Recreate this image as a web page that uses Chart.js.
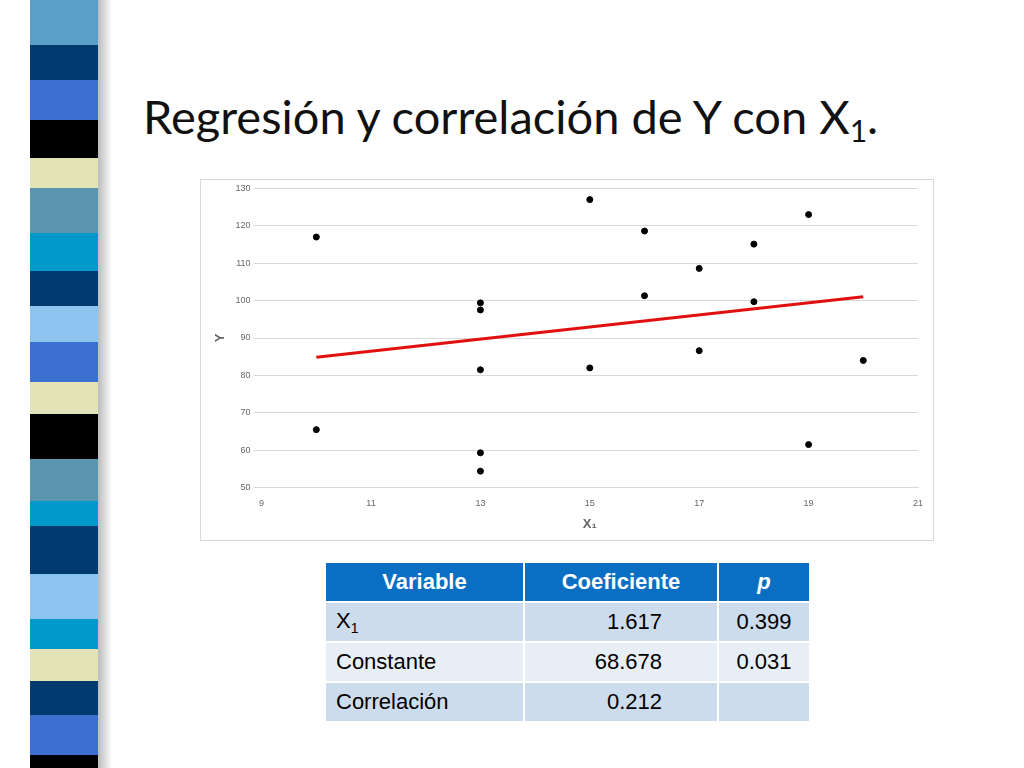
<!DOCTYPE html>
<html lang="es">
<head>
<meta charset="UTF-8">
<title>Regresión y correlación</title>
<script src="https://cdn.jsdelivr.net/npm/chart.js"></script>
<style>
  body { margin: 0; width: 1024px; height: 768px; background: #fff; position: relative; overflow: hidden; font-family: Lato, "Open Sans", sans-serif; }
  #strip { position: absolute; left: 30px; top: 0; width: 68px; height: 768px; }
  #strip div { width: 100%; }
  #shadow { position: absolute; left: 98px; top: 0; width: 14px; height: 768px; background: linear-gradient(to right, #bbb, #fff); }
  h1 { position: absolute; left: 143px; top: 88px; margin: 0; font-weight: normal; font-size: 47px; color: #111; }
  h1 sub { font-size: 30px; vertical-align: -8px; }
  #box { position: absolute; left: 200px; top: 179px; width: 732px; height: 360px; border: 1px solid #d9d9d9; }
  table { position: absolute; left: 324px; top: 561px; border-collapse: collapse; font-family: "Liberation Sans", Arial, sans-serif; font-size: 22px; }
  td, th { height: 38px; padding: 0 10px; border: 2px solid #fff; }
  th { background: #0a6fc2; color: #fff; font-weight: bold; text-align: center; }
  tr.a td { background: #cddcec; }
  tr.b td { background: #e8eef6; }
</style>
</head>
<body>
<div id="strip"></div>
<div id="shadow"></div>
<h1>Regresión y correlación de Y con X<sub>1</sub>.</h1>
<div id="box"><canvas id="chart" width="732" height="360"></canvas></div>
<table>
  <tr><th style="width:177px">Variable</th><th style="width:172px">Coeficiente</th><th style="width:70px"><i>p</i></th></tr>
  <tr class="a"><td>X<sub style="font-size:14px">1</sub></td><td style="text-align:right;padding-right:55px">1.617</td><td style="text-align:center">0.399</td></tr>
  <tr class="b"><td>Constante</td><td style="text-align:right;padding-right:55px">68.678</td><td style="text-align:center">0.031</td></tr>
  <tr class="a"><td>Correlación</td><td style="text-align:right;padding-right:55px">0.212</td><td></td></tr>
</table>
<script>
// bandas decorativas
const stripColors = ['#5aa0c8','#003a6e','#3b6fd0','#000','#e3e3b8','#5a96b0','#0099cc','#003a6e','#8ec4f0','#3b6fd0','#e3e3b8','#000','#5a96b0','#0099cc','#003a6e','#8ec4f0','#0099cc','#e3e3b8','#003a6e','#3b6fd0','#000'];
const stripHeights = [45,35,40,38,30,45,38,35,36,40,32,45,42,25,48,45,30,32,34,40,29];
const strip = document.getElementById('strip');
stripColors.forEach((c, i) => {
  const d = document.createElement('div');
  d.style.background = c; d.style.height = stripHeights[i] + 'px';
  strip.appendChild(d);
});

// datos
const xValues = [10, 10, 13, 13, 13, 13, 13, 15, 15, 16, 16, 17, 17, 18, 18, 19, 19, 20];
const yValues = [117, 65.5, 99.4, 97.5, 81.5, 59.3, 54.4, 127, 82, 118.6, 101.3, 108.6, 86.6, 115.1, 99.7, 123, 61.5, 84];
const slope = 1.617;
const intercept = 68.678;
const lineX = [10, 20];

const points = xValues.map((x, i) => ({ x: x, y: yValues[i] }));
const trend = lineX.map(x => ({ x: x, y: intercept + slope * x }));

new Chart(document.getElementById('chart'), {
  type: 'scatter',
  data: {
    datasets: [
      { data: trend, type: 'line', borderColor: '#e01010', borderWidth: 3, pointRadius: 0, fill: false },
      { data: points, backgroundColor: '#000', borderColor: '#000', pointRadius: 3 }
    ]
  },
  options: {
    responsive: false,
    animation: false,
    layout: { padding: { left: 8, right: 15, top: 8, bottom: 4 } },
    plugins: { legend: { display: false }, tooltip: { enabled: false } },
    scales: {
      x: {
        min: 9, max: 21,
        ticks: { stepSize: 2, color: '#666', font: { size: 9 } },
        grid: { display: false },
        border: { color: '#d9d9d9' },
        title: { display: true, text: 'X₁', color: '#666', font: { size: 13, weight: 'bold' } }
      },
      y: {
        min: 50, max: 130,
        ticks: { stepSize: 10, color: '#666', font: { size: 9 } },
        grid: { color: '#d9d9d9' },
        border: { display: false },
        title: { display: true, text: 'Y', color: '#666', font: { size: 13, weight: 'bold' } }
      }
    }
  }
});
</script>
</body>
</html>
